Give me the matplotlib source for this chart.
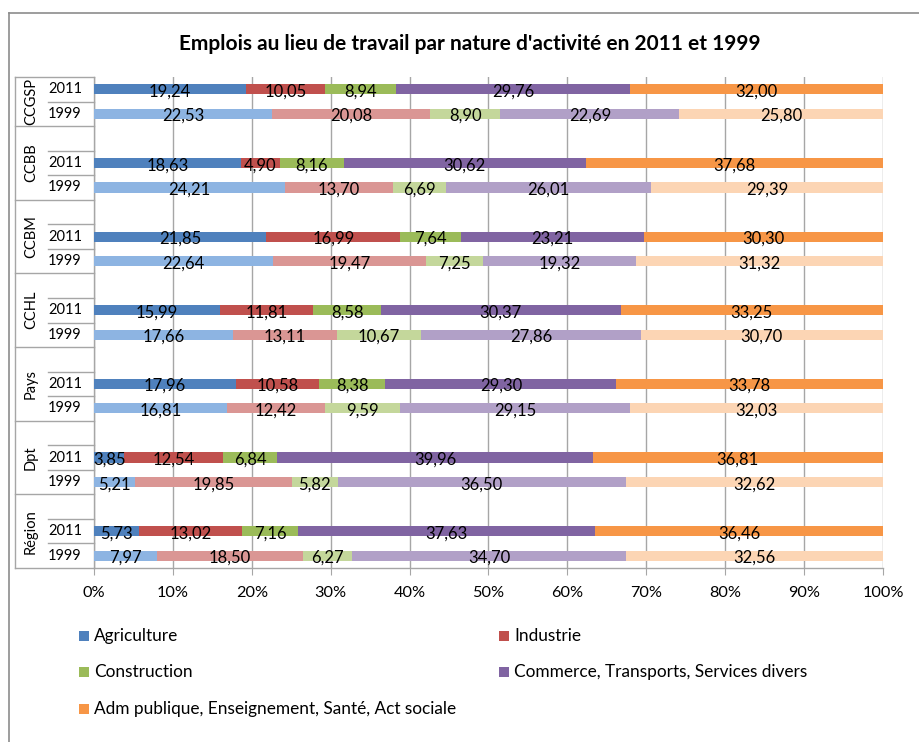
import matplotlib
matplotlib.use("Agg")
import matplotlib.pyplot as plt
from matplotlib.patches import Rectangle
from matplotlib.lines import Line2D
from matplotlib.transforms import blended_transform_factory
import numpy as np

plt.rcParams['font.family'] = ['Lato', 'DejaVu Sans']

title = "Emplois au lieu de travail par nature d'activité en 2011 et 1999"
groups = ["CCGSP", "CCBB", "CCBM", "CCHL", "Pays", "Dpt", "Région"]
years = ["2011", "1999"]
series = ["Agriculture", "Industrie", "Construction",
          "Commerce, Transports, Services divers",
          "Adm publique, Enseignement, Santé, Act sociale"]

agri_2011 = [19.24, 18.63, 21.85, 15.99, 17.96, 3.85, 5.73]
agri_1999 = [22.53, 24.21, 22.64, 17.66, 16.81, 5.21, 7.97]
indu_2011 = [10.05, 4.90, 16.99, 11.81, 10.58, 12.54, 13.02]
indu_1999 = [20.08, 13.70, 19.47, 13.11, 12.42, 19.85, 18.50]
cons_2011 = [8.94, 8.16, 7.64, 8.58, 8.38, 6.84, 7.16]
cons_1999 = [8.90, 6.69, 7.25, 10.67, 9.59, 5.82, 6.27]
comm_2011 = [29.76, 30.62, 23.21, 30.37, 29.30, 39.96, 37.63]
comm_1999 = [22.69, 26.01, 19.32, 27.86, 29.15, 36.50, 34.70]
adm_2011 = [32.00, 37.68, 30.30, 33.25, 33.78, 36.81, 36.46]
adm_1999 = [25.80, 29.39, 31.32, 30.70, 32.03, 32.62, 32.56]

xticks = [0, 10, 20, 30, 40, 50, 60, 70, 80, 90, 100]

dark = ["#4F81BD", "#C0504D", "#9BBB59", "#8064A2", "#F79646"]
light = ["#8DB4E2", "#DA9694", "#C4D79B", "#B1A0C7", "#FCD5B4"]

data = {
    "2011": np.array([agri_2011, indu_2011, cons_2011, comm_2011, adm_2011]),
    "1999": np.array([agri_1999, indu_1999, cons_1999, comm_1999, adm_1999]),
}

W, H = 920, 742
fig = plt.figure(figsize=(W / 100, H / 100), dpi=100)
x0, x1, ytop, ybot = 94, 883, 77, 568
ax = fig.add_axes([x0 / W, 1 - ybot / H, (x1 - x0) / W, (ybot - ytop) / H])

def slot(g, yi):
    return 3 * g + yi

nslots = 3 * (len(groups) - 1) + 2
bar_h = 0.41
grid_c = "#A6A6A6"

for yi, yr in enumerate(years):
    vals = data[yr]
    cols = dark if yr == "2011" else light
    for g in range(len(groups)):
        v = vals[:, g]
        pct = v / v.sum() * 100
        left = 0.0
        y = slot(g, yi)
        for s in range(len(series)):
            ax.barh(y, pct[s], left=left, height=bar_h, color=cols[s],
                    edgecolor='none', zorder=3)
            ax.text(left + pct[s] / 2, y + 0.09,
                    f"{v[s]:.2f}".replace('.', ','),
                    ha='center', va='center', fontsize=12, color='#000000',
                    zorder=5, clip_on=False)
            left += pct[s]

ax.set_xlim(0, 100)
ax.set_ylim(nslots - 0.5, -0.5)
ax.set_xticks(xticks)
ax.set_xticklabels([f"{t}%" for t in xticks], fontsize=11.7)
ax.set_yticks([])
ax.tick_params(axis='x', length=5, color=grid_c, pad=8, direction='out')
ax.grid(axis='x', color=grid_c, linewidth=1.0, zorder=0)
for sp in ['top', 'right']:
    ax.spines[sp].set_visible(False)
for sp in ['left', 'bottom']:
    ax.spines[sp].set_color(grid_c)
    ax.spines[sp].set_linewidth(1.0)

# multi-level category labels
tr = blended_transform_factory(ax.transAxes, ax.transData)
px = lambda p: (p - x0) / (x1 - x0)
xa, xb = px(15), px(48)
lkw = dict(color=grid_c, linewidth=1.0, transform=tr, clip_on=False)
ax.plot([xa, 0], [-0.5, -0.5], **lkw)
ax.plot([xa, xa], [-0.5, nslots - 0.5], **lkw)
ax.plot([xa, 0], [nslots - 0.5, nslots - 0.5], **lkw)
for g, name in enumerate(groups):
    y2011 = slot(g, 0)
    y1999 = slot(g, 1)
    top = -0.5 if g == 0 else y2011 - 1.5
    bottom = y1999 + 0.5
    ax.text(px(31), (top + bottom) / 2, name, rotation=90, ha='center',
            va='center', fontsize=10.5, transform=tr, clip_on=False)
    for yi, yr in enumerate(years):
        ax.text(px(65), slot(g, yi), yr, ha='center', va='center',
                fontsize=10.5, transform=tr, clip_on=False)
    if g > 0:
        ax.plot([xb, 0], [y2011 - 0.5, y2011 - 0.5], **lkw)
    ax.plot([xb, 0], [y2011 + 0.5, y2011 + 0.5], **lkw)
    if g < len(groups) - 1:
        ax.plot([xa, 0], [bottom, bottom], **lkw)

fig.text(470 / W, 1 - 44 / H, title, ha='center', va='center',
         fontsize=15, fontweight='bold')

# legend
leg_pos = [(79, 636), (499, 636), (79, 672), (499, 672), (79, 709)]
for s, (lx, ly) in enumerate(leg_pos):
    fig.patches.append(Rectangle((lx / W, 1 - (ly + 5) / H), 10 / W, 10 / H,
                                 transform=fig.transFigure, facecolor=dark[s],
                                 edgecolor='none'))
    fig.text((lx + 15) / W, 1 - ly / H, series[s], ha='left', va='center',
             fontsize=12.4)

# chart border
bc = "#8C8C8C"
fig.add_artist(Line2D([9 / W, 1], [1 - 13 / H, 1 - 13 / H], color=bc, lw=1.2,
                      transform=fig.transFigure))
fig.add_artist(Line2D([9 / W, 9 / W], [0, 1 - 13 / H], color=bc, lw=1.2,
                      transform=fig.transFigure))

fig.savefig("out.png", dpi=100)
